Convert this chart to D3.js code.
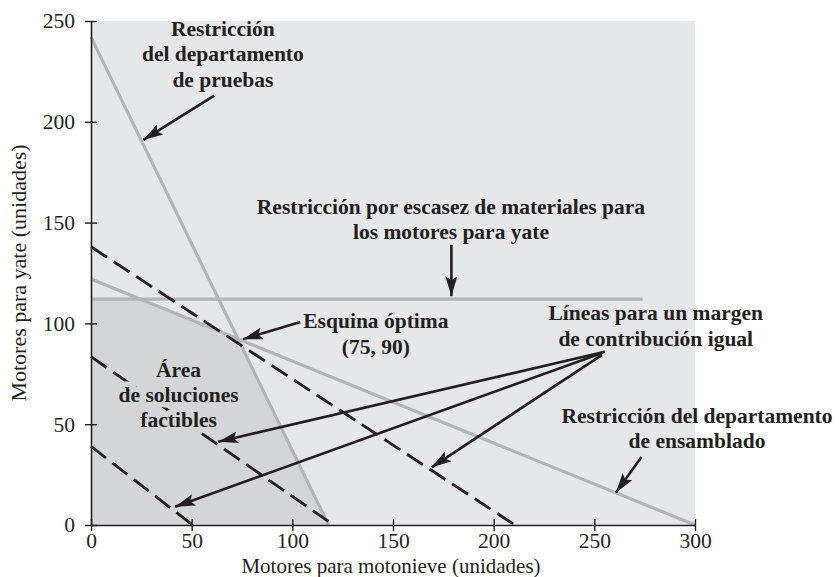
<!DOCTYPE html>
<html>
<head>
<meta charset="utf-8">
<script src="https://cdn.jsdelivr.net/npm/d3@7"></script>
<style>
  body { margin: 0; background: #fff; }
  text { font-family: "Liberation Serif", "Times New Roman", serif; fill: #231f20; }
  .lbl { font-weight: bold; font-size: 21.5px; }
</style>
</head>
<body>
<div id="chart"></div>
<script>
// ticks
var xTicks = [0, 50, 100, 150, 200, 250, 300];
var yTicks = [0, 50, 100, 150, 200, 250];

// restricciones (extremos)
var testingLine = [[0, 242], [118, 0]];
var assemblyLine = [[0, 122], [300, 0]];
var materialsLine = [[0, 112], [274, 112]];

// lineas de margen de contribucion igual
var isoLines = [
    [[0, 39], [50.5, 0]],
    [[0, 83.5], [120.5, 0]],
    [[0, 138], [210.5, 0]]
];

// anotaciones: texto, centro, lineas
var labels = [
    {lines: ["Restricción", "del departamento", "de pruebas"], x: 65.5, y: 242.5},
    {lines: ["Restricción por escasez de materiales para", "los motores para yate"], x: 178.8, y: 154.5},
    {lines: ["Esquina óptima", "(75, 90)"], x: 141.5, y: 97.5},
    {lines: ["Líneas para un margen", "de contribución igual"], x: 280.5, y: 101.5},
    {lines: ["Área", "de soluciones", "factibles"], x: 43.5, y: 73.5, halo: true},
    {lines: ["Restricción del departamento", "de ensamblado"], x: 301, y: 50.7}
];
var arrows = [
    [[61.2, 213], [26, 191]],
    [[179, 139], [179, 113.5]],
    [[104, 100.7], [75.5, 92.2]],
    [[255.2, 85.9], [63.2, 41.3]],
    [[254.2, 85.4], [41.8, 9.1]],
    [[253.8, 84.4], [169.2, 28.6]],
    [[273.4, 33.7], [260.7, 16]]
];

var width = 839, height = 577;
var margin = {left: 91, top: 21};
var plotW = 604, plotH = 504;

var svg = d3.select("#chart").append("svg")
    .attr("width", width)
    .attr("height", height);

var x = d3.scaleLinear().domain([0, 300]).range([margin.left, margin.left + plotW]);
var y = d3.scaleLinear().domain([0, 250]).range([margin.top + plotH, margin.top]);

svg.append("defs").append("marker")
    .attr("id", "arrow")
    .attr("viewBox", "0 -6 20 12")
    .attr("refX", 20)
    .attr("refY", 0)
    .attr("markerUnits", "userSpaceOnUse")
    .attr("markerWidth", 20)
    .attr("markerHeight", 12)
    .attr("orient", "auto")
    .append("path")
    .attr("d", "M0,-6L20,0L0,6L4,0Z")
    .attr("fill", "#231f20");

// fondo
svg.append("rect")
    .attr("x", x(0)).attr("y", y(250))
    .attr("width", x(300) - x(0)).attr("height", y(0) - y(250))
    .attr("fill", "#e6e7e8");

// interseccion de dos rectas
function intersect(a, b) {
    var x1 = a[0][0], y1 = a[0][1], x2 = a[1][0], y2 = a[1][1];
    var x3 = b[0][0], y3 = b[0][1], x4 = b[1][0], y4 = b[1][1];
    var den = (x1 - x2) * (y3 - y4) - (y1 - y2) * (x3 - x4);
    var t = ((x1 - x3) * (y3 - y4) - (y1 - y3) * (x3 - x4)) / den;
    return [x1 + t * (x2 - x1), y1 + t * (y2 - y1)];
}

var feasible = [
    [0, 0],
    materialsLine[0],
    intersect(materialsLine, assemblyLine),
    intersect(assemblyLine, testingLine),
    testingLine[1]
];

var line = d3.line().x(function (d) { return x(d[0]); }).y(function (d) { return y(d[1]); });

svg.append("path")
    .attr("d", line(feasible) + "Z")
    .attr("fill", "#d4d5d7");

// restricciones
svg.selectAll(".constraint")
    .data([testingLine, assemblyLine, materialsLine])
    .enter().append("path")
    .attr("class", "constraint")
    .attr("d", line)
    .attr("fill", "none")
    .attr("stroke", "#b3b4b6")
    .attr("stroke-width", 3.2);

svg.selectAll(".iso")
    .data(isoLines)
    .enter().append("path")
    .attr("class", "iso")
    .attr("d", line)
    .attr("fill", "none")
    .attr("stroke", "#231f20")
    .attr("stroke-width", 2.8)
    .attr("stroke-dasharray", "19,8");

// ejes
var xAxis = svg.append("g")
    .attr("transform", "translate(0," + y(0) + ")")
    .call(d3.axisBottom(x).tickValues(xTicks).tickSize(6).tickSizeOuter(0).tickPadding(2));
var yAxis = svg.append("g")
    .attr("transform", "translate(" + x(0) + ",0)")
    .call(d3.axisLeft(y).tickValues(yTicks).tickSize(6).tickSizeOuter(0).tickPadding(10));

xAxis.selectAll(".tick line").attr("y1", -6);
yAxis.selectAll(".tick line").attr("x1", 6);
[xAxis, yAxis].forEach(function (g) {
    g.select(".domain").attr("stroke", "#231f20").attr("stroke-width", 1.6);
    g.selectAll(".tick line").attr("stroke", "#231f20").attr("stroke-width", 1.4);
    g.selectAll("text")
        .style("font-family", "'Liberation Serif', serif")
        .style("font-size", "21.5px")
        .attr("fill", "#231f20");
});

svg.append("text")
    .attr("x", x(150) - 2)
    .attr("y", 572.5)
    .attr("text-anchor", "middle")
    .style("font-size", "21px")
    .text("Motores para motonieve (unidades)");

svg.append("text")
    .attr("transform", "translate(26," + y(125) + ") rotate(-90)")
    .attr("text-anchor", "middle")
    .style("font-size", "22px")
    .text("Motores para yate (unidades)");

// flechas
svg.selectAll(".arrow")
    .data(arrows)
    .enter().append("path")
    .attr("class", "arrow")
    .attr("d", line)
    .attr("stroke", "#231f20")
    .attr("stroke-width", 2.6)
    .attr("fill", "none")
    .attr("marker-end", "url(#arrow)");

// textos
labels.forEach(function (l) {
    var t = svg.append("text")
        .attr("class", "lbl")
        .attr("text-anchor", "middle");
    if (l.halo) {
        t.style("paint-order", "stroke")
            .attr("stroke", "#d4d5d7")
            .attr("stroke-width", 11)
            .attr("stroke-linejoin", "round");
    }
    l.lines.forEach(function (s, i) {
        t.append("tspan")
            .attr("x", x(l.x))
            .attr("y", y(l.y) + i * 25.3)
            .text(s);
    });
});
</script>
</body>
</html>
